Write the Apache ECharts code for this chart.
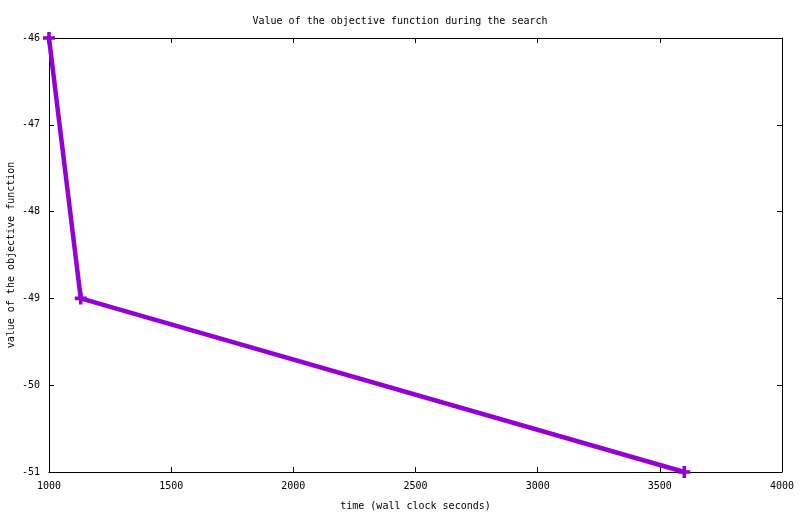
<!DOCTYPE html>
<html>
<head>
<meta charset="utf-8">
<script src="https://cdn.jsdelivr.net/npm/echarts@6/dist/echarts.min.js"></script>
<style>
    html, body { margin: 0; padding: 0; background: #fff; }
    #chart { width: 800px; height: 514px; }
</style>
</head>
<body>
<div id="chart"></div>
<script>
var times = [1000, 1130, 3600];
var objective = [-46, -49, -51];

var font = 'DejaVu Sans Mono';
var myChart = echarts.init(document.getElementById('chart'), null, { renderer: 'canvas' });

var points = times.map(function (t, i) { return [t, objective[i]]; });

var tickStyle = {
    show: true,
    inside: true,
    length: 5,
    lineStyle: { color: '#000', width: 1 }
};

var option = {
    animation: false,
    backgroundColor: '#fff',
    title: {
        text: 'Value of the objective function during the search',
        left: 'center',
        top: 11,
        textStyle: { fontFamily: font, fontSize: 10, fontWeight: 'normal', color: '#000' }
    },
    grid: {
        left: 49,
        right: 18,
        top: 38,
        bottom: 42,
        containLabel: false,
        outerBoundsMode: 'none'
    },
    xAxis: [{
        type: 'value',
        min: 1000,
        max: 4000,
        interval: 500,
        name: 'time (wall clock seconds)',
        nameLocation: 'middle',
        nameGap: 29,
        nameMoveOverlap: false,
        nameTextStyle: { fontFamily: font, fontSize: 10, color: '#000' },
        axisLine: { show: true, lineStyle: { color: '#000', width: 1 } },
        axisTick: tickStyle,
        axisLabel: {
            fontFamily: font, fontSize: 10, color: '#000', margin: 9,
            formatter: function (v) { return String(v); }
        },
        splitLine: { show: false }
    }, {
        type: 'value',
        position: 'top',
        min: 1000,
        max: 4000,
        interval: 500,
        axisLine: { show: true, lineStyle: { color: '#000', width: 1 } },
        axisTick: tickStyle,
        axisLabel: { show: false },
        splitLine: { show: false }
    }],
    yAxis: [{
        type: 'value',
        min: -51,
        max: -46,
        interval: 1,
        name: 'value of the objective function',
        nameLocation: 'middle',
        nameGap: 33,
        nameMoveOverlap: false,
        nameTextStyle: { fontFamily: font, fontSize: 10, color: '#000' },
        axisLine: { show: true, lineStyle: { color: '#000', width: 1 } },
        axisTick: tickStyle,
        axisLabel: { fontFamily: font, fontSize: 10, color: '#000', margin: 9 },
        splitLine: { show: false }
    }, {
        type: 'value',
        position: 'right',
        min: -51,
        max: -46,
        interval: 1,
        axisLine: { show: true, lineStyle: { color: '#000', width: 1 } },
        axisTick: tickStyle,
        axisLabel: { show: false },
        splitLine: { show: false }
    }],
    series: [{
        name: 'objective',
        type: 'line',
        data: points,
        clip: false,
        symbol: 'path://M3.5,0h3v3.5h3.5v3h-3.5v3.5h-3v-3.5h-3.5v-3h3.5z',
        symbolSize: 12,
        showAllSymbol: true,
        lineStyle: { color: '#9400d3', width: 4.5 },
        itemStyle: { color: '#9400d3' }
    }]
};

myChart.setOption(option);
</script>
</body>
</html>
